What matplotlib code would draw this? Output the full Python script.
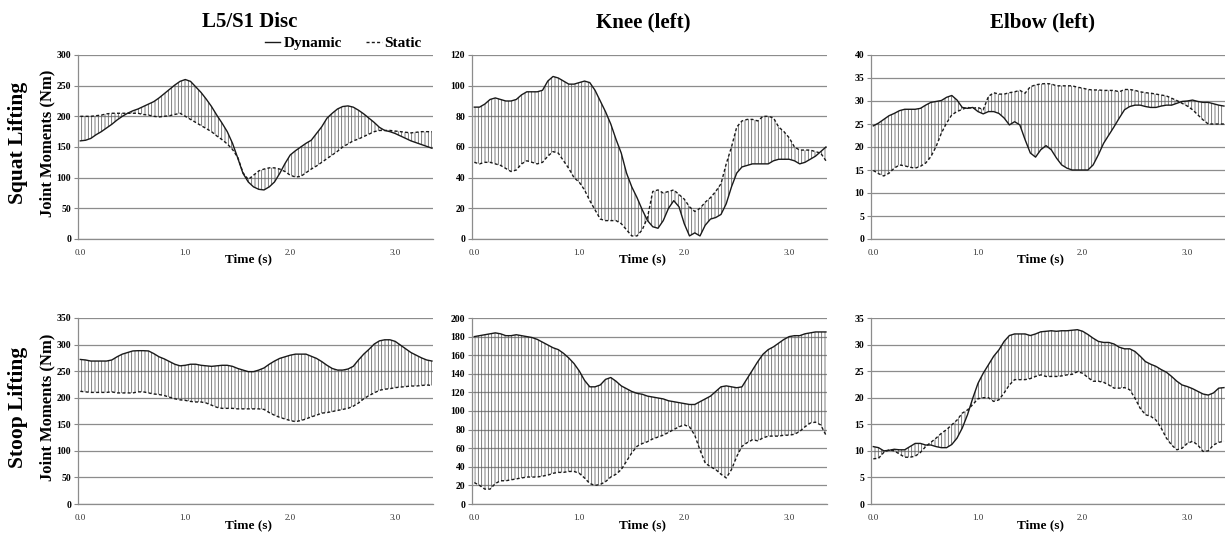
import numpy as np
import matplotlib
matplotlib.use("Agg")
import matplotlib.pyplot as plt
from matplotlib.lines import Line2D

plt.rcParams['font.family'] = ['Liberation Serif', 'DejaVu Serif']
plt.rcParams['hatch.linewidth'] = 0.55
plt.rcParams['hatch.color'] = '#5a5a5a'

# ---------------- data ----------------
time_s = np.round(np.arange(68) * 0.05, 2)
x_ticks = [0, 1, 2, 3]
x_tick_labels = ["0.0", "1.0", "2.0", "3.0"]

col_titles = ["L5/S1 Disc", "Knee (left)", "Elbow (left)"]
row_titles = ["Squat Lifting", "Stoop Lifting"]

squat_l5_dynamic = [160, 161, 164, 170, 175, 181, 187, 194, 200, 205,
                    209, 212, 216, 220, 224, 230, 237, 244, 251, 257,
                    260, 257, 248, 239, 228, 216, 202, 189, 175, 156,
                    132, 107, 93, 85, 81, 80, 85, 93, 107, 123,
                    137, 144, 150, 156, 161, 172, 183, 197, 205, 212,
                    216, 217, 215, 210, 204, 197, 190, 182, 177, 175,
                    172, 168, 164, 160, 157, 154, 151, 148]
squat_l5_static = [200, 200, 200, 201, 202, 204, 205, 205, 205, 205,
                   205, 205, 203, 202, 200, 199, 200, 201, 203, 205,
                   200, 195, 190, 185, 180, 175, 168, 162, 155, 146,
                   133, 108, 97, 104, 111, 114, 116, 116, 114, 110,
                   104, 101, 102, 108, 114, 119, 125, 131, 137, 143,
                   150, 155, 160, 163, 167, 171, 175, 177, 177, 177,
                   176, 175, 174, 173, 174, 175, 175, 175]

squat_knee_dynamic = [86, 86, 88, 91, 92, 91, 90, 90, 91, 94,
                      96, 96, 96, 97, 103, 106, 105, 103, 101, 101,
                      102, 103, 102, 97, 90, 83, 75, 65, 56, 43,
                      34, 27, 19, 12, 8, 7, 12, 20, 25, 21,
                      10, 2, 4, 2, 9, 13, 14, 16, 23, 34,
                      43, 47, 48, 49, 49, 49, 49, 51, 52, 52,
                      52, 51, 49, 50, 52, 54, 57, 60]
squat_knee_static = [50, 49, 50, 50, 49, 48, 46, 44, 45, 49,
                     51, 50, 49, 50, 54, 57, 56, 51, 46, 40,
                     37, 32, 25, 19, 13, 12, 12, 12, 10, 6,
                     2, 2, 6, 14, 31, 32, 30, 31, 32, 29,
                     26, 21, 18, 20, 24, 27, 31, 36, 49, 60,
                     73, 77, 78, 78, 77, 80, 80, 79, 73, 70,
                     66, 60, 58, 58, 58, 57, 56, 51]

squat_elbow_dynamic = [24.6, 25.2, 26.0, 26.8, 27.3, 27.9, 28.2, 28.2, 28.2, 28.4,
                       29.1, 29.7, 29.9, 30.1, 30.8, 31.2, 30.2, 28.6, 28.4, 28.6,
                       27.7, 27.2, 27.7, 27.7, 27.3, 26.3, 24.8, 25.5, 24.8, 21.6,
                       18.7, 17.8, 19.4, 20.3, 19.4, 17.6, 16.1, 15.4, 15.0, 15.0,
                       15.0, 15.0, 16.1, 18.3, 20.8, 22.6, 24.4, 26.3, 28.1, 28.8,
                       29.1, 29.1, 28.8, 28.6, 28.6, 28.9, 29.1, 29.1, 29.5, 29.9,
                       30.0, 30.2, 29.9, 29.7, 29.7, 29.4, 29.1, 28.9]
squat_elbow_static = [14.9, 14.2, 13.7, 14.3, 15.4, 16.1, 15.9, 15.6, 15.4, 15.8,
                      16.5, 17.9, 20.1, 23.0, 25.2, 27.0, 27.7, 28.2, 28.6, 28.4,
                      28.6, 28.1, 31.0, 31.8, 31.5, 31.5, 31.8, 32.0, 32.3, 31.7,
                      33.1, 33.5, 33.7, 33.8, 33.7, 33.3, 33.3, 33.3, 33.3, 33.0,
                      32.8, 32.5, 32.4, 32.4, 32.3, 32.3, 32.3, 32.0, 32.5, 32.5,
                      32.3, 32.0, 31.8, 31.7, 31.5, 31.3, 31.1, 30.6, 30.1, 29.5,
                      28.9, 28.1, 27.0, 25.9, 25.0, 25.0, 25.0, 25.0]

stoop_l5_dynamic = [272, 271, 269, 269, 269, 269, 271, 277, 282, 285,
                    288, 288.5, 288.5, 288, 283, 277, 273, 268, 263, 260,
                    261, 263, 263, 261, 260, 259, 260, 261, 261, 259,
                    255, 252, 249, 249, 252, 256, 263, 269, 274, 277,
                    280, 282, 282, 282, 278, 274, 268, 261, 255, 252,
                    252, 254, 259, 271, 282, 291, 301, 307, 309, 309,
                    306, 299, 292, 285, 280, 275, 271, 269]
stoop_l5_static = [212, 211, 210, 210, 210, 210, 211, 209, 209, 209,
                   209, 211, 211, 209, 207, 206, 204, 201, 198, 196,
                   195, 193, 192, 192, 190, 186, 182, 180, 180, 180,
                   179, 179, 179, 179, 179, 178, 172, 167, 163, 160,
                   157, 155, 157, 160, 164, 167, 171, 172, 174, 176,
                   178, 180, 184, 190, 198, 204, 209, 214, 216, 217,
                   219, 220, 221, 222, 222, 223, 224, 223]

stoop_knee_dynamic = [180, 181, 182, 183, 184, 183, 181, 181, 182, 181,
                      180, 179, 177, 174, 171, 168, 166, 162, 157, 151,
                      143, 133, 126, 126, 128, 134, 136, 132, 127, 124,
                      121, 119, 118, 116, 115, 114, 113, 111, 110, 109,
                      108, 107, 107, 110, 113, 116, 121, 126, 127, 126,
                      125, 126, 135, 144, 153, 161, 166, 169, 173, 177,
                      180, 181, 181, 183, 184, 185, 185, 185]
stoop_knee_static = [23, 20, 16, 16, 22, 25, 25, 26, 27, 28,
                     29, 29, 29, 30, 31, 33, 34, 34, 35, 35,
                     33, 28, 22, 20, 21, 24, 29, 32, 37, 46,
                     55, 62, 65, 67, 70, 72, 74, 77, 80, 83,
                     85, 83, 74, 58, 44, 40, 37, 32, 28, 37,
                     51, 62, 66, 69, 68, 71, 73, 73, 73, 74,
                     74, 75, 78, 83, 87, 88, 85, 74]

stoop_elbow_dynamic = [10.8, 10.6, 10.0, 10.1, 10.3, 10.2, 10.2, 10.8, 11.4, 11.4,
                       11.1, 11.1, 10.8, 10.6, 10.6, 11.2, 12.4, 14.3, 16.8, 19.9,
                       22.7, 24.6, 26.2, 27.8, 29.0, 30.6, 31.7, 32.0, 32.0, 32.0,
                       31.7, 32.0, 32.4, 32.5, 32.6, 32.5, 32.6, 32.6, 32.7, 32.8,
                       32.5, 31.9, 31.2, 30.6, 30.4, 30.4, 30.1, 29.5, 29.2, 29.2,
                       28.7, 27.8, 26.8, 26.3, 25.9, 25.3, 24.8, 24.0, 23.1, 22.4,
                       22.1, 21.7, 21.2, 20.7, 20.5, 20.9, 21.8, 21.9]
stoop_elbow_static = [8.5, 8.6, 9.7, 10.2, 10.0, 9.4, 8.8, 8.8, 9.0, 9.7,
                      10.8, 11.6, 12.4, 13.3, 14.0, 14.9, 15.8, 17.1, 17.7, 18.7,
                      19.8, 20.0, 20.0, 19.3, 19.6, 20.9, 22.4, 23.4, 23.4, 23.4,
                      23.6, 24.0, 24.3, 24.0, 24.0, 24.0, 24.1, 24.3, 24.4, 24.9,
                      24.6, 23.8, 23.1, 23.1, 22.9, 22.4, 21.8, 21.8, 21.9, 21.5,
                      19.9, 18.0, 16.8, 16.5, 15.8, 14.3, 12.4, 11.1, 10.2, 10.5,
                      11.4, 11.8, 11.1, 9.9, 10.0, 11.1, 11.6, 11.8]

y_max = [[300, 120, 40], [350, 200, 35]]
y_step = [[50, 20, 5], [50, 20, 5]]
dynamic = [[squat_l5_dynamic, squat_knee_dynamic, squat_elbow_dynamic],
           [stoop_l5_dynamic, stoop_knee_dynamic, stoop_elbow_dynamic]]
static = [[squat_l5_static, squat_knee_static, squat_elbow_static],
          [stoop_l5_static, stoop_knee_static, stoop_elbow_static]]

# ---------------- layout ----------------
W, H = 1225, 534
fig = plt.figure(figsize=(W / 100, H / 100), dpi=100)
col_px = [(78, 433), (472, 827), (871, 1225)]
row_px = [(55, 239), (318, 504)]

axes = [[None] * 3 for _ in range(2)]
for r in range(2):
    for c in range(3):
        l, rr = col_px[c]
        t, b = row_px[r]
        ax = fig.add_axes([l / W, 1 - b / H, (rr - l) / W, (b - t) / H])
        axes[r][c] = ax
        d = np.array(dynamic[r][c], dtype=float)
        s = np.array(static[r][c], dtype=float)
        ax.fill_between(time_s, d, s, facecolor='none', edgecolor='#5a5a5a',
                        hatch='|||||', linewidth=0, zorder=2)
        ax.plot(time_s, d, color='#1a1a1a', lw=1.0, zorder=3)
        ax.plot(time_s, s, color='#1a1a1a', lw=1.0, ls=(0, (2.2, 1.6)), zorder=3)
        ax.set_xlim(-0.022, 3.36)
        ax.set_ylim(0, y_max[r][c])
        ax.set_yticks(np.arange(0, y_max[r][c] + 0.1, y_step[r][c]))
        ax.set_xticks(x_ticks)
        ax.set_xticklabels(x_tick_labels, fontsize=6.5, color='#333333')
        for lab in ax.get_yticklabels():
            lab.set_fontweight('bold')
            lab.set_fontsize(7)
        ax.tick_params(axis='x', length=0, pad=7)
        ax.tick_params(axis='y', length=3, width=0.8, color='#888888', pad=2)
        ax.yaxis.grid(True, color='#8c8c8c', lw=0.9)
        ax.set_axisbelow(True)
        for sp in ['top', 'right']:
            ax.spines[sp].set_visible(False)
        for sp in ['left', 'bottom']:
            ax.spines[sp].set_color('#8c8c8c')
            ax.spines[sp].set_linewidth(0.9)
        ax.text(0.48, -0.108 if r == 0 else -0.115, "Time (s)", transform=ax.transAxes,
                ha='center', va='center', fontsize=9.5, fontweight='bold')

# column titles
for c in range(3):
    l, rr = col_px[c]
    fig.text(((l + rr) / 2 - 6) / W, 1 - 22 / H, col_titles[c], ha='center', va='center',
             fontsize=15, fontweight='bold')

# row titles and y labels
for r in range(2):
    t, b = row_px[r]
    yc = 1 - ((t + b) / 2 - 4) / H
    fig.text(18 / W, yc, row_titles[r], rotation=90, ha='center', va='center',
             fontsize=15.5, fontweight='bold')
    fig.text(47 / W, yc, "Joint Moments (Nm)", rotation=90, ha='center', va='center',
             fontsize=12, fontweight='bold')

# legend
handles = [Line2D([], [], color='#1a1a1a', lw=1.0),
           Line2D([], [], color='#1a1a1a', lw=1.0, ls=(0, (2.2, 1.6)))]
axes[0][0].legend(handles, ["Dynamic", "Static"], loc='center right',
                  bbox_to_anchor=(0.99, 1.065), ncol=2, frameon=False,
                  handlelength=1.0, handletextpad=0.2, columnspacing=1.6,
                  borderpad=0, prop={'family': 'Liberation Serif', 'weight': 'bold', 'size': 11})

fig.savefig("out.png", dpi=100)
